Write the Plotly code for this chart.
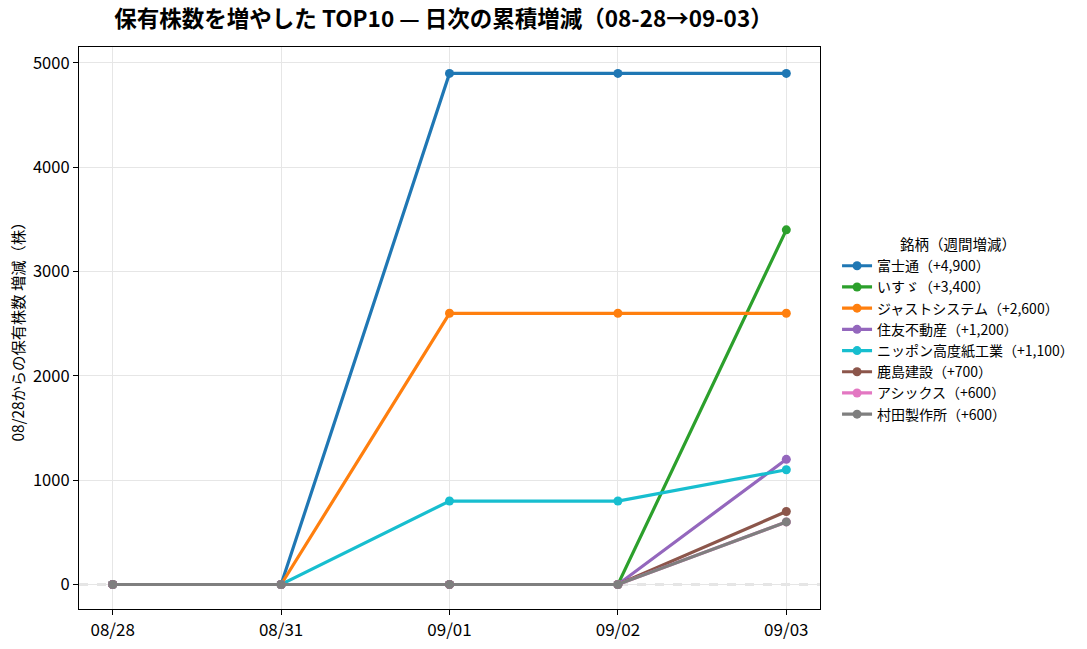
import plotly.graph_objects as go

dates = ["08/28", "08/31", "09/01", "09/02", "09/03"]
names = ["富士通", "いすゞ", "ジャストシステム", "住友不動産", "ニッポン高度紙工業", "鹿島建設", "アシックス", "村田製作所"]
weekly = [4900, 3400, 2600, 1200, 1100, 700, 600, 600]
values = [
    [0, 0, 4900, 4900, 4900],
    [0, 0, 0, 0, 3400],
    [0, 0, 2600, 2600, 2600],
    [0, 0, 0, 0, 1200],
    [0, 0, 800, 800, 1100],
    [0, 0, 0, 0, 700],
    [0, 0, 0, 0, 600],
    [0, 0, 0, 0, 600],
]
colors = ["#1f77b4", "#2ca02c", "#ff7f0e", "#9467bd", "#17becf", "#8c564b", "#e377c2", "#7f7f7f"]

FONT = "Noto Sans CJK JP"
fig = go.Figure()
for n, w, v, c in zip(names, weekly, values, colors):
    fig.add_trace(go.Scatter(
        x=list(range(len(dates))), y=v, mode="lines+markers",
        name=f"{n}（+{w:,}）",
        line=dict(color=c, width=3.2),
        marker=dict(color=c, size=9),
    ))

fig.add_shape(type="line", xref="paper", x0=0, x1=1, yref="y", y0=0, y1=0,
              line=dict(color="#999999", width=1.6, dash="dash"), layer="between")

fig.update_layout(
    width=1087, height=649,
    margin=dict(l=79, r=267, t=47, b=40, autoexpand=False),
    plot_bgcolor="white", paper_bgcolor="white",
    font=dict(family=FONT, size=16, color="black"),
    title=dict(text="<b>保有株数を増やした TOP10 — 日次の累積増減（08-28→09-03）</b>",
               x=0.408, xanchor="center", y=0.97, yanchor="middle",
               font=dict(size=22.5, family=FONT)),
    legend=dict(
        title=dict(text="銘柄（週間増減）", side="top center", font=dict(size=14.5)),
        x=1.023, xanchor="left", y=0.495, yanchor="middle",
        font=dict(size=14), bgcolor="rgba(0,0,0,0)", tracegroupgap=0,
        itemwidth=30,
    ),
    showlegend=True,
)
fig.update_xaxes(
    range=[-0.2, 4.2], tickmode="array", tickvals=list(range(len(dates))), ticktext=dates,
    showgrid=True, gridcolor="#e6e6e6", gridwidth=1,
    showline=True, linecolor="black", linewidth=1.2, mirror=True,
    ticks="outside", ticklen=5, tickcolor="black", zeroline=False,
    tickfont=dict(size=17), automargin=False,
)
fig.update_yaxes(
    range=[-235, 5153], tickmode="array", tickvals=[0, 1000, 2000, 3000, 4000, 5000],
    showgrid=True, gridcolor="#e6e6e6", gridwidth=1,
    showline=True, linecolor="black", linewidth=1.2, mirror=True,
    ticks="outside", ticklen=5, tickcolor="black", zeroline=False,
    title=dict(text="08/28からの保有株数 増減（株）", font=dict(size=15.3), standoff=4),
    tickfont=dict(size=16.5), automargin=False,
)
fig.write_html("out.html", config={"displayModeBar": False},
               post_script="document.body.style.margin='0';")
